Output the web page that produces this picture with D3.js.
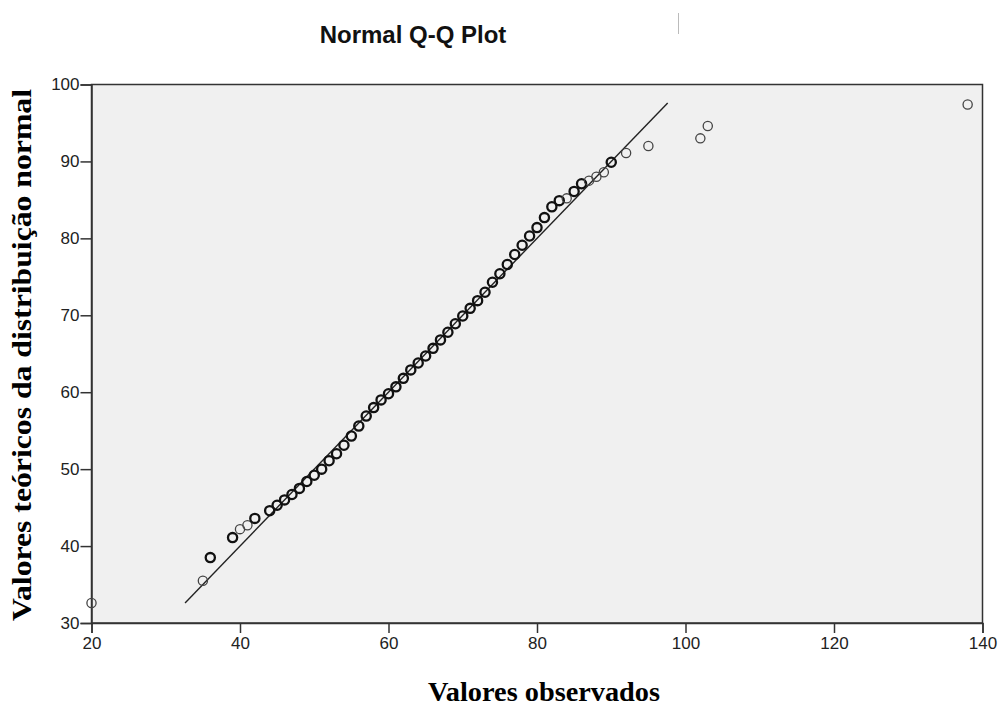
<!DOCTYPE html>
<html>
<head>
<meta charset="utf-8">
<script src="https://cdn.jsdelivr.net/npm/d3@7"></script>
<style>
  body { margin: 0; background: #fff; }
  svg { display: block; }
</style>
</head>
<body>
<div id="chart"></div>
<script>
// observed values, expected normal quantiles, and how many cases share each point
const observed = [20, 35, 36, 39, 40, 41, 42, 44, 45, 46, 47, 48, 49, 50, 51, 52, 53, 54, 55, 56, 57, 58, 59, 60, 61, 62, 63, 64, 65, 66, 67, 68, 69, 70, 71, 72, 73, 74, 75, 76, 77, 78, 79, 80, 81, 82, 83, 84, 85, 86, 87, 88, 89, 90, 92, 95, 102, 103, 138];
const expected = [32.6, 35.5, 38.5, 41.1, 42.2, 42.7, 43.6, 44.6, 45.3, 46.0, 46.7, 47.5, 48.4, 49.2, 50.0, 51.1, 52.0, 53.1, 54.3, 55.6, 56.9, 58.0, 59.0, 59.8, 60.7, 61.8, 62.9, 63.8, 64.7, 65.7, 66.8, 67.8, 68.9, 69.9, 70.9, 71.9, 73.0, 74.3, 75.4, 76.6, 77.9, 79.1, 80.3, 81.4, 82.7, 84.1, 84.9, 85.2, 86.1, 87.1, 87.5, 88.0, 88.6, 89.9, 91.1, 92.0, 93.0, 94.6, 97.4];
const counts = [1, 1, 2, 2, 1, 1, 2, 2, 2, 2, 2, 2, 2, 2, 2, 2, 2, 2, 2, 2, 2, 2, 2, 2, 2, 2, 2, 2, 2, 2, 2, 2, 2, 2, 2, 2, 2, 2, 2, 2, 2, 2, 2, 2, 2, 2, 2, 1, 2, 2, 1, 1, 1, 2, 1, 1, 1, 1, 1];
const refLine = [32.6, 97.6];
const xTicks = [20, 40, 60, 80, 100, 120, 140];
const yTicks = [30, 40, 50, 60, 70, 80, 90, 100];

const width = 1000;
const height = 709;
const margin = { top: 84.5, right: 17.5, bottom: 86, left: 91.5 };
const innerW = width - margin.left - margin.right;
const innerH = height - margin.top - margin.bottom;

const svg = d3.select("#chart")
  .append("svg")
  .attr("width", width)
  .attr("height", height);

const x = d3.scaleLinear().domain([20, 140]).range([margin.left, margin.left + innerW]);
const y = d3.scaleLinear().domain([30, 100]).range([margin.top + innerH, margin.top]);

// title
svg.append("text")
  .attr("x", 413)
  .attr("y", 43)
  .attr("text-anchor", "middle")
  .style("font-family", "Liberation Sans, Arial, sans-serif")
  .style("font-weight", "bold")
  .style("font-size", "24px")
  .attr("fill", "#111")
  .text("Normal Q-Q Plot");

svg.append("line")
  .attr("x1", 678.5).attr("x2", 678.5)
  .attr("y1", 13).attr("y2", 34)
  .attr("stroke", "#bbb")
  .attr("stroke-width", 1);

// plot background
svg.append("rect")
  .attr("x", margin.left)
  .attr("y", margin.top)
  .attr("width", innerW)
  .attr("height", innerH)
  .attr("fill", "#f0f0f0")
  .attr("stroke", "#333")
  .attr("stroke-width", 1.5);

// axes
const xAxis = svg.append("g")
  .attr("transform", `translate(0,${margin.top + innerH})`)
  .call(d3.axisBottom(x).tickValues(xTicks).tickSize(10).tickPadding(4));

const yAxis = svg.append("g")
  .attr("transform", `translate(${margin.left},0)`)
  .call(d3.axisLeft(y).tickValues(yTicks).tickSize(11).tickPadding(1));

[xAxis, yAxis].forEach((g) => {
  g.select(".domain").attr("stroke", "#333").attr("stroke-width", 1.5);
  g.selectAll(".tick line").attr("stroke", "#333").attr("stroke-width", 1.5);
  g.selectAll(".tick text")
    .attr("fill", "#222")
    .style("font-family", "Liberation Sans, Arial, sans-serif")
    .style("font-size", "17px");
});

// reference line
svg.append("line")
  .attr("x1", x(refLine[0])).attr("y1", y(refLine[0]))
  .attr("x2", x(refLine[1])).attr("y2", y(refLine[1]))
  .attr("stroke", "#222")
  .attr("stroke-width", 1.4);

// points
const points = observed.map((d, i) => ({ obs: d, exp: expected[i], n: counts[i] }));

svg.append("g")
  .selectAll("circle")
  .data(points)
  .enter()
  .append("circle")
  .attr("cx", (d) => x(d.obs))
  .attr("cy", (d) => y(d.exp))
  .attr("r", 4.6)
  .attr("fill", "none")
  .attr("stroke", (d) => (d.n > 1 ? "#111" : "#444"))
  .attr("stroke-width", (d) => (d.n > 1 ? 2.3 : 1.3));

// axis titles
svg.append("text")
  .attr("x", 544)
  .attr("y", 701)
  .attr("text-anchor", "middle")
  .attr("textLength", 232)
  .attr("lengthAdjust", "spacingAndGlyphs")
  .style("font-family", "Liberation Serif, Times New Roman, serif")
  .style("font-weight", "bold")
  .style("font-size", "27px")
  .attr("fill", "#000")
  .text("Valores observados");

svg.append("text")
  .attr("transform", "translate(31,355) rotate(-90)")
  .attr("text-anchor", "middle")
  .attr("textLength", 532)
  .attr("lengthAdjust", "spacingAndGlyphs")
  .style("font-family", "Liberation Serif, Times New Roman, serif")
  .style("font-weight", "bold")
  .style("font-size", "27px")
  .attr("fill", "#000")
  .text("Valores teóricos da distribuição normal");
</script>
</body>
</html>
